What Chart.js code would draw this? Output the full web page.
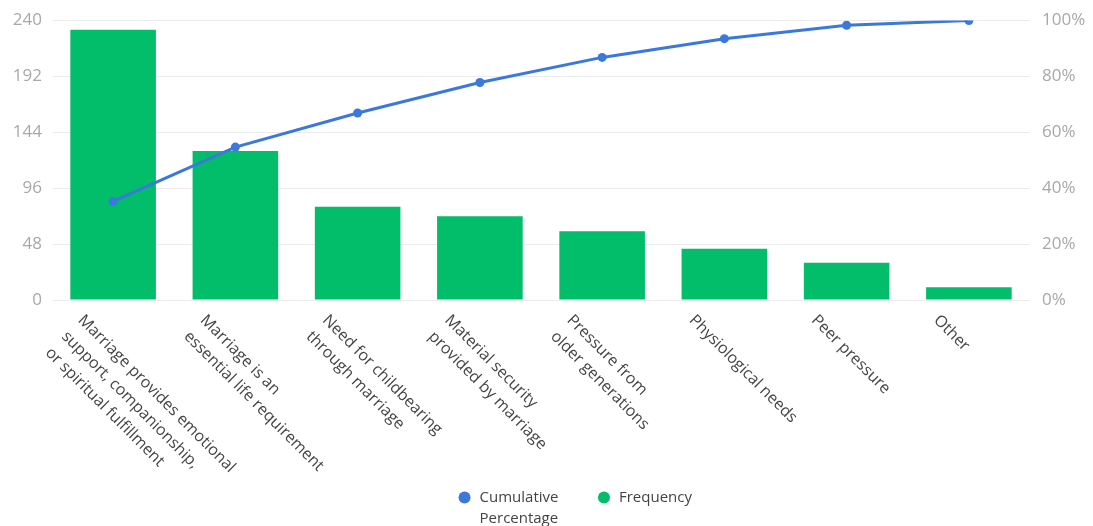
<!DOCTYPE html>
<html>
<head>
<meta charset="utf-8">
<script src="https://cdn.jsdelivr.net/npm/chart.js@4"></script>
<style>
  html, body { margin: 0; padding: 0; background: #fff; }
  #wrap { width: 1093px; height: 526px; position: relative; }
</style>
</head>
<body>
<div id="wrap"><canvas id="myChart"></canvas></div>
<script>
const categories = [
  ['Marriage provides emotional', 'support, companionship,', 'or spiritual fulfillment'],
  ['Marriage is an', 'essential life requirement'],
  ['Need for childbearing', 'through marriage'],
  ['Material security', 'provided by marriage'],
  ['Pressure from', 'older generations'],
  ['Physiological needs'],
  ['Peer pressure'],
  ['Other']
]
const frequency = [232, 128, 80, 72, 59, 44, 32, 11]
const cumulative = [35.3, 54.7, 66.9, 77.8, 86.8, 93.5, 98.3, 100]
const countTicks = [0, 48, 96, 144, 192, 240]
const percentTicks = [0, 20, 40, 60, 80, 100]

const tickColor = '#a8a8a8'
const tickFont = { family: '"Open Sans", "Noto Sans", sans-serif', size: 17, lineHeight: 1 }

// x labels run downwards to the right, which Chart.js can't do by itself
const slantLabels = {
  id: 'slantLabels',
  afterDraw(chart) {
    const { ctx, chartArea } = chart
    const x = chart.scales.x
    ctx.save()
    ctx.font = '16px "Open Sans", "Noto Sans", sans-serif'
    ctx.fillStyle = '#444'
    ctx.textAlign = 'left'
    ctx.textBaseline = 'top'
    categories.forEach((lines, i) => {
      const px = x.getPixelForValue(i)
      ctx.save()
      ctx.translate(px - 27, chartArea.bottom + 12)
      ctx.rotate(Math.PI / 4)
      lines.forEach((line, j) => ctx.fillText(line, 0, j * 23))
      ctx.restore()
    })
    ctx.restore()
  }
}

// legend sits a little right of centre and its two-line item must not be clipped
const legendPlace = {
  id: 'legendPlace',
  afterLayout(chart) {
    chart.legend.left += 56
    chart.legend.bottom = chart.height
  }
}

// multi-line legend text, measured by its longest line
function wrapLegend(text) {
  if (!text.includes(' ')) return text
  const lines = text.split(' ')
  const longest = lines.reduce((a, b) => (a.length >= b.length ? a : b))
  lines.toString = () => longest
  return lines
}

function paretoChart() {
  const ctx = document.getElementById('myChart')
  const myChart = new Chart(ctx, {
    data: {
      labels: categories,
      datasets: [{
        type: 'line',
        label: 'Cumulative Percentage',
        data: cumulative,
        yAxisID: 'y1',
        borderColor: '#3b78dc',
        backgroundColor: '#3b78dc',
        borderWidth: 3,
        pointRadius: 4.5,
        pointBorderWidth: 0,
        tension: 0
      }, {
        type: 'bar',
        label: 'Frequency',
        data: frequency,
        yAxisID: 'y',
        backgroundColor: '#02bd6a',
        borderWidth: 0,
        barPercentage: 0.7,
        categoryPercentage: 1.0
      }]
    },
    options: {
      responsive: true,
      maintainAspectRatio: false,
      animation: false,
      layout: { padding: { top: 0, left: 0, right: 0, bottom: 11 } },
      scales: {
        x: {
          ticks: { display: false },
          grid: { display: false },
          border: { display: false },
          afterFit: scale => { scale.height = 152 }
        },
        y: {
          position: 'left',
          min: 0,
          max: 240,
          afterBuildTicks: scale => { scale.ticks = countTicks.map(v => ({ value: v })) },
          ticks: { color: tickColor, font: tickFont, padding: 10 },
          grid: { color: '#ebebeb', drawTicks: false },
          border: { display: false },
          afterFit: scale => { scale.width = 52 }
        },
        y1: {
          position: 'right',
          min: 0,
          max: 100,
          afterBuildTicks: scale => { scale.ticks = percentTicks.map(v => ({ value: v })) },
          ticks: { color: tickColor, font: tickFont, padding: 12, callback: v => v + '%' },
          grid: { display: false, drawTicks: false },
          border: { display: false },
          afterFit: scale => { scale.width = 63 }
        }
      },
      plugins: {
        tooltip: { enabled: false },
        legend: {
          position: 'bottom',
          labels: {
            usePointStyle: true,
            pointStyle: 'circle',
            boxHeight: 8.5,
            padding: 38,
            color: '#444',
            font: { family: '"Open Sans", "Noto Sans", sans-serif', size: 15, lineHeight: 1.4 },
            generateLabels: chart => {
              const items = Chart.defaults.plugins.legend.labels.generateLabels(chart)
              return items.map(item => {
                item.lineWidth = 0
                item.text = wrapLegend(item.text)
                return item
              })
            }
          }
        }
      }
    },
    plugins: [slantLabels, legendPlace]
  })
  return myChart
}

paretoChart()
</script>
</body>
</html>
